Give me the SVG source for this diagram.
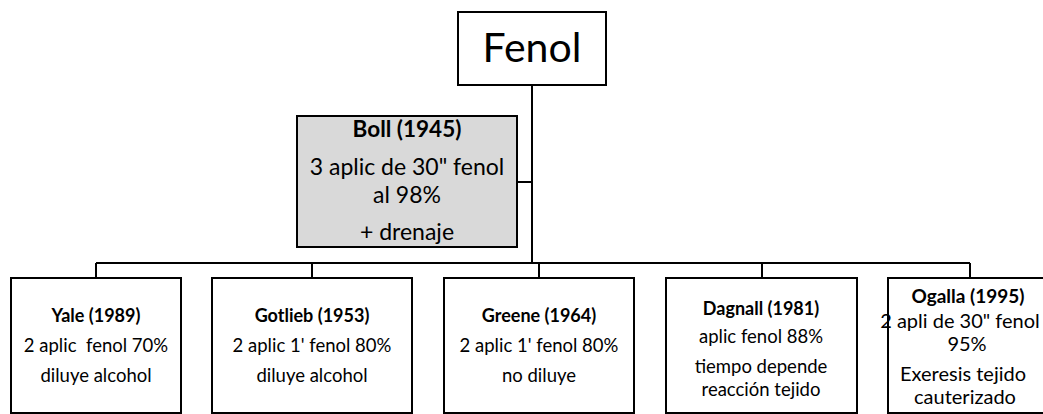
<svg xmlns="http://www.w3.org/2000/svg" width="1043" height="414" viewBox="0 0 1043 414">
  <style>
    .box { fill: #ffffff; stroke: #000000; stroke-width: 2; }
    .grey { fill: #d9d9d9; }
    .link { fill: none; stroke: #000000; stroke-width: 2; }
    text { font-family: "Lato", "Open Sans", "Liberation Sans", sans-serif; fill: #000000; text-anchor: middle; }
    .t { font-size: 18.5px; }
    .h { font-size: 18px; font-weight: bold; }
    .ot { font-size: 20px; }
    .oh { font-size: 19px; font-weight: bold; }
    .bt { font-size: 23px; }
    .bh { font-size: 22.5px; font-weight: bold; }
    .root { font-size: 41px; }
  </style>
  <rect width="1043" height="414" fill="#ffffff"/>

  <!-- connectors -->
  <g id="connectors">
    <path class="link" d="M532 85 V263"/>
    <path class="link" d="M517 182 H532"/>
    <path class="link" d="M96 263 H970"/>
    <path class="link" d="M96 263 V278 M312 263 V278 M539 263 V278 M762 263 V278 M970 263 V278"/>
  </g>

  <g id="fenol">
    <rect class="box" x="458" y="12" width="148" height="73"/>
    <text class="root" x="532" y="62">Fenol</text>
  </g>

  <g id="boll">
    <rect class="box grey" x="297" y="116" width="220" height="131"/>
    <text class="bh" x="407" y="137">Boll (1945)</text>
    <text class="bt" x="407" y="175">3 aplic de 30" fenol</text>
    <text class="bt" x="407" y="203">al 98%</text>
    <text class="bt" x="407" y="240">+ drenaje</text>
  </g>

  <g id="yale">
    <rect class="box" x="11" y="278" width="170" height="135"/>
    <text class="h" x="96" y="322">Yale (1989)</text>
    <text class="t" x="96" y="352" xml:space="preserve">2 aplic  fenol 70%</text>
    <text class="t" x="96" y="382">diluye alcohol</text>
  </g>

  <g id="gotlieb">
    <rect class="box" x="212" y="278" width="200" height="135"/>
    <text class="h" x="312" y="322">Gotlieb (1953)</text>
    <text class="t" x="312" y="352">2 aplic 1' fenol 80%</text>
    <text class="t" x="312" y="382">diluye alcohol</text>
  </g>

  <g id="greene">
    <rect class="box" x="444" y="278" width="190" height="135"/>
    <text class="h" x="539" y="322">Greene (1964)</text>
    <text class="t" x="539" y="352">2 aplic 1' fenol 80%</text>
    <text class="t" x="539" y="382">no diluye</text>
  </g>

  <g id="dagnall">
    <rect class="box" x="666" y="278" width="191" height="135"/>
    <text class="h" x="761" y="315">Dagnall (1981)</text>
    <text class="t" x="761" y="343">aplic fenol 88%</text>
    <text class="t" x="761" y="373">tiempo depende</text>
    <text class="t" x="761" y="396">reacción tejido</text>
  </g>

  <g id="ogalla">
    <rect class="box" x="888" y="278" width="170" height="135"/>
    <text class="oh" x="968" y="303">Ogalla (1995)</text>
    <text class="ot" x="960" y="328">2 apli de 30" fenol</text>
    <text class="ot" x="967" y="351">95%</text>
    <text class="ot" x="963" y="381">Exeresis tejido</text>
    <text class="ot" x="965" y="404">cauterizado</text>
  </g>
</svg>
